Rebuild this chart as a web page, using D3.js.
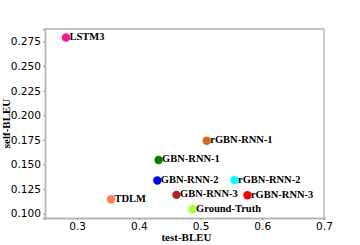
<!DOCTYPE html>
<meta charset="utf-8">
<head>
<style>
  body { margin: 0; background: #fff; }
  .tick text { font-family: "DejaVu Sans", sans-serif; font-size: 10.6px; fill: #000; }
  .lbl { font-family: "Liberation Serif", serif; font-weight: bold; font-size: 10.5px; fill: #000; }
  .axlbl { font-family: "Liberation Serif", serif; font-weight: bold; font-size: 11px; fill: #000; }
</style>
</head>
<body>
<script src="https://d3js.org/d3.v7.min.js"></script>
<script>
// values
var models = ["LSTM3", "TDLM", "GBN-RNN-1", "GBN-RNN-2", "GBN-RNN-3", "rGBN-RNN-1", "rGBN-RNN-2", "rGBN-RNN-3", "Ground-Truth"];
var testBleu = [0.282, 0.355, 0.432, 0.430, 0.461, 0.510, 0.555, 0.576, 0.487];
var selfBleu = [0.279, 0.1145, 0.1545, 0.1337, 0.119, 0.174, 0.134, 0.1187, 0.1044];
var colors = ["#ff1493", "#ff7f50", "#008000", "#0000ff", "#b22222", "#d2691e", "#00ffff", "#ff0000", "#adff2f"];
var xTicks = [0.3, 0.4, 0.5, 0.6, 0.7];
var yTicks = [0.100, 0.125, 0.150, 0.175, 0.200, 0.225, 0.250, 0.275];

var margin = {top: 29, right: 36, bottom: 27, left: 45},
    width = 360 - margin.left - margin.right,
    height = 245 - margin.top - margin.bottom;

var svg = d3.select("body").append("svg")
    .attr("width", 360)
    .attr("height", 245)
  .append("g")
    .attr("transform", "translate(" + margin.left + "," + margin.top + ")");

var x = d3.scaleLinear().domain([0.248, 0.7]).range([0, width]);
var y = d3.scaleLinear().domain([0.0955, 0.2877]).range([height, 0]);

// frame
svg.append("line").attr("x1", 0).attr("x2", width).attr("y1", 0).attr("y2", 0)
    .attr("stroke", "#888").attr("stroke-width", 1.2);
svg.append("line").attr("x1", width).attr("x2", width).attr("y1", 0).attr("y2", height)
    .attr("stroke", "#bbb").attr("stroke-width", 1.5);

var xa = svg.append("g")
    .attr("transform", "translate(0," + height + ")")
    .call(d3.axisBottom(x).tickValues(xTicks).tickFormat(d3.format(".1f")).tickSize(2).tickPadding(2));
var ya = svg.append("g")
    .call(d3.axisLeft(y).tickValues(yTicks).tickFormat(d3.format(".3f")).tickSize(2).tickPadding(2));
[xa, ya].forEach(function(a) {
  a.select(".domain").attr("stroke", "#b5b5b5").attr("stroke-width", 1.8);
  a.selectAll(".tick line").attr("stroke", "#999");
});

svg.selectAll("circle")
    .data(models)
  .join("circle")
    .attr("cx", function(d, i) { return x(testBleu[i]); })
    .attr("cy", function(d, i) { return y(selfBleu[i]); })
    .attr("r", 4.2)
    .attr("fill", function(d, i) { return colors[i]; });

svg.selectAll("text.lbl")
    .data(models)
  .join("text")
    .attr("class", "lbl")
    .attr("x", function(d, i) { return x(testBleu[i]) + 3.5; })
    .attr("y", function(d, i) { return y(selfBleu[i]) + 2.5; })
    .text(function(d) { return d; });

svg.append("text").attr("class", "axlbl")
    .attr("text-anchor", "middle")
    .attr("x", width / 2 + 2)
    .attr("y", height + 23)
    .text("test-BLEU");

svg.append("text").attr("class", "axlbl")
    .attr("text-anchor", "middle")
    .attr("transform", "translate(-35.5," + (height / 2) + ") rotate(-90)")
    .text("self-BLEU");
</script>
</body>
